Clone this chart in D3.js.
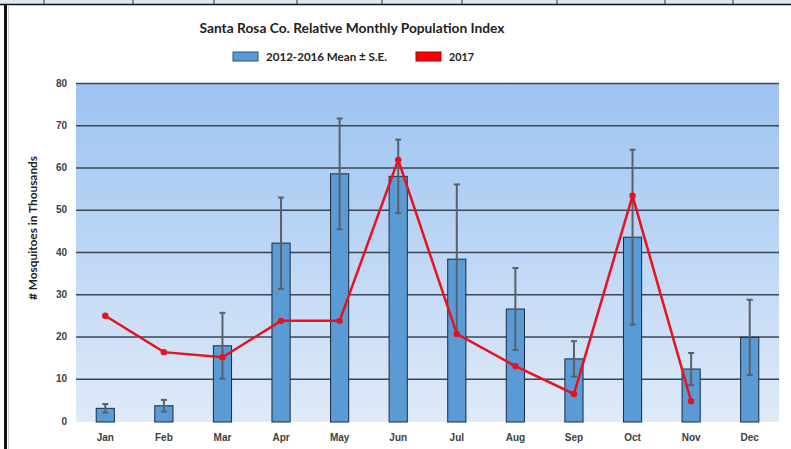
<!DOCTYPE html>
<html>
<head>
<meta charset="utf-8">
<script src="https://cdn.jsdelivr.net/npm/d3@7"></script>
<style>
  body { margin: 0; background: #fff; }
  svg { display: block; font-family: Lato, "Open Sans", sans-serif; }
  .axis text { font-size: 10px; font-weight: 700; fill: #404040; }
</style>
</head>
<body>
<div id="graph"></div>
<script>
var months = ["Jan", "Feb", "Mar", "Apr", "May", "Jun", "Jul", "Aug", "Sep", "Oct", "Nov", "Dec"];
var meanValues = [3.0, 3.6, 17.8, 42.1, 58.5, 57.9, 38.3, 26.5, 14.7, 43.5, 12.3, 19.8];
var seValues = [1.0, 1.4, 7.8, 10.8, 13.1, 8.7, 17.7, 9.7, 4.2, 20.7, 3.8, 8.9];
var values2017 = [24.9, 16.3, 15.1, 23.7, 23.7, 61.8, 20.6, 13.0, 6.4, 53.3, 4.7, null];
var yTicks = [0, 10, 20, 30, 40, 50, 60, 70, 80];
var seriesNames = ["2012-2016 Mean \u00b1 S.E.", "2017"];

var W = 791, H = 449;
var plot = {left: 76, right: 779, top: 83, bottom: 421};

var svg = d3.select("#graph").append("svg")
    .attr("width", W)
    .attr("height", H);

// spreadsheet strip above the chart
svg.append("rect").attr("x", 0).attr("y", 0).attr("width", W).attr("height", 4).attr("fill", "#dde7f2");
[44, 133, 214, 297, 382, 462, 557, 665, 733].forEach(function(cx) {
  svg.append("line").attr("x1", cx).attr("x2", cx).attr("y1", 0).attr("y2", 4)
    .attr("stroke", "#333").attr("stroke-width", 1);
});
svg.append("line").attr("x1", 0).attr("x2", W).attr("y1", 4.5).attr("y2", 4.5)
  .attr("stroke", "#111").attr("stroke-width", 1.5);
svg.append("line").attr("x1", 5.5).attr("x2", 5.5).attr("y1", 5).attr("y2", H)
  .attr("stroke", "#111").attr("stroke-width", 3);
svg.append("line").attr("x1", 8.5).attr("x2", 8.5).attr("y1", 5).attr("y2", H)
  .attr("stroke", "#ccc").attr("stroke-width", 1);

var x = d3.scaleBand().domain(months).range([plot.left, plot.right]).padding(0);
var y = d3.scaleLinear().domain([0, 80]).range([plot.bottom, plot.top]);
var barW = x.bandwidth() * 0.31;

var defs = svg.append("defs");
var grad = defs.append("linearGradient").attr("id", "bg").attr("x1", 0).attr("x2", 0).attr("y1", 0).attr("y2", 1);
grad.append("stop").attr("offset", "0%").attr("stop-color", "#9cc3f1");
grad.append("stop").attr("offset", "100%").attr("stop-color", "#dfeaf8");

svg.append("rect")
    .attr("x", plot.left).attr("y", plot.top)
    .attr("width", plot.right - plot.left).attr("height", plot.bottom - plot.top + 1)
    .attr("fill", "url(#bg)");

// gridlines
svg.append("g")
    .attr("class", "grid")
    .attr("transform", "translate(" + plot.left + ",0)")
    .call(d3.axisLeft(y).tickValues(yTicks.filter(function(d) { return d > 0; }))
      .tickSize(-(plot.right - plot.left)).tickFormat(""))
    .call(function(g) { g.select(".domain").remove(); })
    .selectAll("line").attr("stroke", "#3a4658").attr("stroke-width", 1.5);

svg.append("g")
    .attr("class", "axis axis--y")
    .attr("transform", "translate(" + plot.left + ",0)")
    .call(d3.axisLeft(y).tickValues(yTicks).tickSize(0).tickPadding(9))
    .call(function(g) { g.select(".domain").remove(); });

svg.append("g")
    .attr("class", "axis axis--x")
    .attr("transform", "translate(0," + plot.bottom + ")")
    .call(d3.axisBottom(x).tickSize(0).tickPadding(13))
    .call(function(g) { g.select(".domain").remove(); });

// bars
svg.append("g").selectAll("rect")
    .data(months)
  .enter().append("rect")
    .attr("x", function(d) { return x(d) + x.bandwidth() / 2 - barW / 2; })
    .attr("y", function(d, i) { return y(meanValues[i]); })
    .attr("width", barW)
    .attr("height", function(d, i) { return y(0) - y(meanValues[i]) + 1; })
    .attr("fill", "#5b9bd5")
    .attr("stroke", "#1c2a3c")
    .attr("stroke-width", 1);

// error bars
var err = svg.append("g").attr("stroke", "#5a6068").attr("stroke-width", 2);
months.forEach(function(m, i) {
  var cx = x(m) + x.bandwidth() / 2;
  var hi = y(meanValues[i] + seValues[i]), lo = y(meanValues[i] - seValues[i]);
  err.append("line").attr("x1", cx).attr("x2", cx).attr("y1", hi).attr("y2", lo);
  err.append("line").attr("x1", cx - 3).attr("x2", cx + 3).attr("y1", hi).attr("y2", hi);
  err.append("line").attr("x1", cx - 3).attr("x2", cx + 3).attr("y1", lo).attr("y2", lo);
});

// 2017 line
var pts = months.map(function(m, i) { return {m: m, v: values2017[i]}; })
  .filter(function(d) { return d.v != null; });

svg.append("path")
    .datum(pts)
    .attr("fill", "none")
    .attr("stroke", "#e5121f")
    .attr("stroke-width", 2.5)
    .attr("d", d3.line()
      .x(function(d) { return x(d.m) + x.bandwidth() / 2; })
      .y(function(d) { return y(d.v); }));

svg.append("g").selectAll("circle")
    .data(pts)
  .enter().append("circle")
    .attr("cx", function(d) { return x(d.m) + x.bandwidth() / 2; })
    .attr("cy", function(d) { return y(d.v); })
    .attr("r", 3.2)
    .attr("fill", "#e5121f");

// title
svg.append("text")
    .attr("x", 352).attr("y", 33)
    .attr("text-anchor", "middle")
    .attr("textLength", 305).attr("lengthAdjust", "spacingAndGlyphs")
    .style("font-size", "14px").style("font-weight", 700).style("fill", "#222")
    .text("Santa Rosa Co. Relative Monthly Population Index");

// y title
svg.append("text")
    .attr("transform", "translate(37,228) rotate(-90)")
    .attr("text-anchor", "middle")
    .attr("textLength", 144).attr("lengthAdjust", "spacingAndGlyphs")
    .style("font-size", "11px").style("font-weight", 700).style("fill", "#222")
    .text("# Mosquitoes in Thousands");

// legend
var legend = [
  {name: seriesNames[0], fill: "#5b9bd5", stroke: "#2c4f7a", sx: 233, tx: 266, tw: 121},
  {name: seriesNames[1], fill: "#ff0000", stroke: "#8a1010", sx: 416, tx: 449, tw: 25}
];
legend.forEach(function(l) {
  svg.append("rect").attr("x", l.sx).attr("y", 52).attr("width", 25).attr("height", 9)
    .attr("fill", l.fill).attr("stroke", l.stroke).attr("stroke-width", 1);
  svg.append("text").attr("x", l.tx).attr("y", 61)
    .attr("textLength", l.tw).attr("lengthAdjust", "spacingAndGlyphs")
    .style("font-size", "12px").style("font-weight", 700).style("fill", "#222")
    .text(l.name);
});
</script>
</body>
</html>
